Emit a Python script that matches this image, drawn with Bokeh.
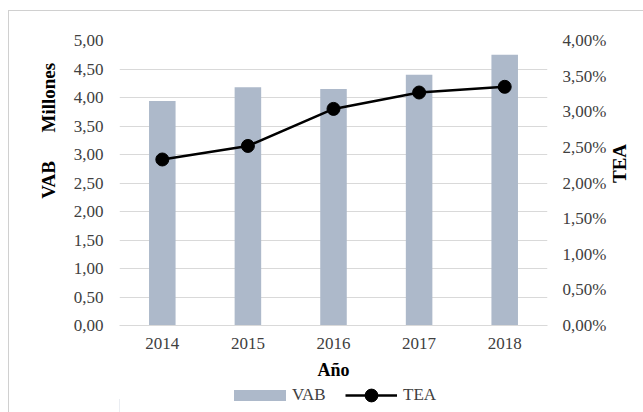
from bokeh.plotting import figure
from bokeh.layouts import column
from bokeh.models import (FactorRange, Range1d, LinearAxis, FixedTicker, CustomJSTickFormatter,
                          Legend, LegendItem, ColumnDataSource)
from bokeh.embed import file_html
from bokeh.resources import INLINE
from math import pi

years = ["2014", "2015", "2016", "2017", "2018"]
vab = [3.94, 4.18, 4.15, 4.40, 4.75]          # millones
tea = [2.33, 2.52, 3.04, 3.27, 3.35]          # %
left_ticks = [0, 0.5, 1, 1.5, 2, 2.5, 3, 3.5, 4, 4.5, 5]
right_ticks = [0, 0.5, 1, 1.5, 2, 2.5, 3, 3.5, 4]

FONT = "Liberation Serif"
TXT = "#404040"
BAR = "#adb9ca"
W, H, HL = 643, 385, 27
NB = "\u00a0"

src = ColumnDataSource(dict(year=years, vab=vab, tea=tea))

p = figure(x_range=FactorRange(*years, range_padding=0), y_range=Range1d(0, 5),
           width=W, height=H, output_backend="svg", toolbar_location=None,
           min_border_left=119, min_border_right=88, min_border_top=40, min_border_bottom=60)
p.extra_y_ranges = {"tea": Range1d(0, 4)}
p.outline_line_color = None
p.background_fill_color = "white"
p.border_fill_alpha = 0
p.styles = {
    "background": ("linear-gradient(#d0d0d0, #d0d0d0) 8px 10px / 1px 100% no-repeat, "
                   "linear-gradient(#d0d0d0, #d0d0d0) 8px 10px / 100% 1px no-repeat, white"),
}

bars = p.vbar(x="year", top="vab", width=0.31, source=src, fill_color=BAR, line_color=None)
line = p.line(x="year", y="tea", source=src, y_range_name="tea", line_color="black", line_width=2.5)
dots = p.scatter(x="year", y="tea", source=src, y_range_name="tea", size=13,
                 fill_color="black", line_color="black")

fmt_left = CustomJSTickFormatter(code="return tick.toFixed(2).replace('.', ',');")
fmt_right = CustomJSTickFormatter(code="return tick.toFixed(2).replace('.', ',') + '%';")

def bare(ax):
    ax.axis_line_color = None
    ax.major_tick_line_color = None
    ax.minor_tick_line_color = None
    ax.major_tick_out = 0
    ax.major_tick_in = 0
    ax.minor_tick_out = 0
    ax.minor_tick_in = 0

ya = p.yaxis[0]
bare(ya)
ya.ticker = FixedTicker(ticks=left_ticks)
ya.formatter = fmt_left
ya.major_label_standoff = 16
ya.major_label_text_font = FONT
ya.major_label_text_font_size = "17px"
ya.major_label_text_color = TXT
ya.axis_label = NB * 22 + "VAB" + NB * 6 + "Millones"
ya.axis_label_text_font = FONT
ya.axis_label_text_font_style = "bold"
ya.axis_label_text_font_size = "19px"
ya.axis_label_text_color = "black"
ya.axis_label_standoff = 12

# right axis: tick labels only
ra = LinearAxis(y_range_name="tea", ticker=FixedTicker(ticks=right_ticks), formatter=fmt_right)
bare(ra)
ra.major_label_standoff = 15
ra.major_label_text_font = FONT
ra.major_label_text_font_size = "17px"
ra.major_label_text_color = TXT
p.add_layout(ra, "right")

# outer right axis: only the "TEA" title
rt = LinearAxis(y_range_name="tea", ticker=FixedTicker(ticks=[]), bounds=(0, 3.26))
bare(rt)
rt.major_label_standoff = 0
rt.major_label_text_font_size = "0px"
rt.axis_label = "TEA"
rt.axis_label_text_font = FONT
rt.axis_label_text_font_style = "bold"
rt.axis_label_text_font_size = "19px"
rt.axis_label_text_color = "black"
rt.axis_label_standoff = 10
try:
    rt.axis_label_orientation = pi / 2
except Exception:
    pass
p.add_layout(rt, "right")

xa = p.xaxis[0]
bare(xa)
xa.axis_line_color = "#d9d9d9"
xa.major_label_standoff = 12
xa.major_label_text_font = FONT
xa.major_label_text_font_size = "17px"
xa.major_label_text_color = TXT
xa.axis_label = "Año"
xa.axis_label_text_font = FONT
xa.axis_label_text_font_style = "bold"
xa.axis_label_text_font_size = "18px"
xa.axis_label_text_color = "black"
xa.axis_label_standoff = 8

p.xgrid.grid_line_color = None
p.ygrid.grid_line_color = "#d9d9d9"
p.ygrid.ticker = FixedTicker(ticks=left_ticks)

# legend strip below the chart (its frame is aligned with the chart's frame)
pl = figure(width=W, height=HL, output_backend="svg", toolbar_location=None,
            x_axis_location=None, y_axis_location=None,
            min_border_left=0, min_border_right=0, min_border_top=0, min_border_bottom=0,
            x_range=Range1d(0, 1), y_range=Range1d(0, 1))
pl.outline_line_color = None
pl.grid.grid_line_color = None
pl.background_fill_alpha = 0
pl.border_fill_alpha = 0
pl.styles = {
    "background": "linear-gradient(#d0d0d0, #d0d0d0) 8px 0px / 1px 100% no-repeat, white",
}
lb = pl.vbar(x=[-10], top=[0.5], width=0.1, fill_color=BAR, line_color=None)
ll = pl.line(x=[-10, -9], y=[0.5, 0.5], line_color="black", line_width=2.5)
ld = pl.scatter(x=[-10], y=[0.5], size=13, fill_color="black", line_color="black")
common = dict(orientation="horizontal", label_text_font=FONT, label_text_font_size="17px",
              label_text_color=TXT, border_line_color=None, background_fill_alpha=0,
              padding=0, margin=0)
leg1 = Legend(items=[LegendItem(label="VAB", renderers=[lb])], location=(108, 7),
              glyph_width=65, glyph_height=14, label_standoff=0, **common)
leg2 = Legend(items=[LegendItem(label="TEA", renderers=[ll, ld])], location=(226, 1),
              glyph_width=52, glyph_height=32, label_standoff=6, **common)
pl.add_layout(leg1, "center")
pl.add_layout(leg2, "center")

layout = column(p, pl, spacing=0)
open("out.html", "w").write(file_html(layout, INLINE))
